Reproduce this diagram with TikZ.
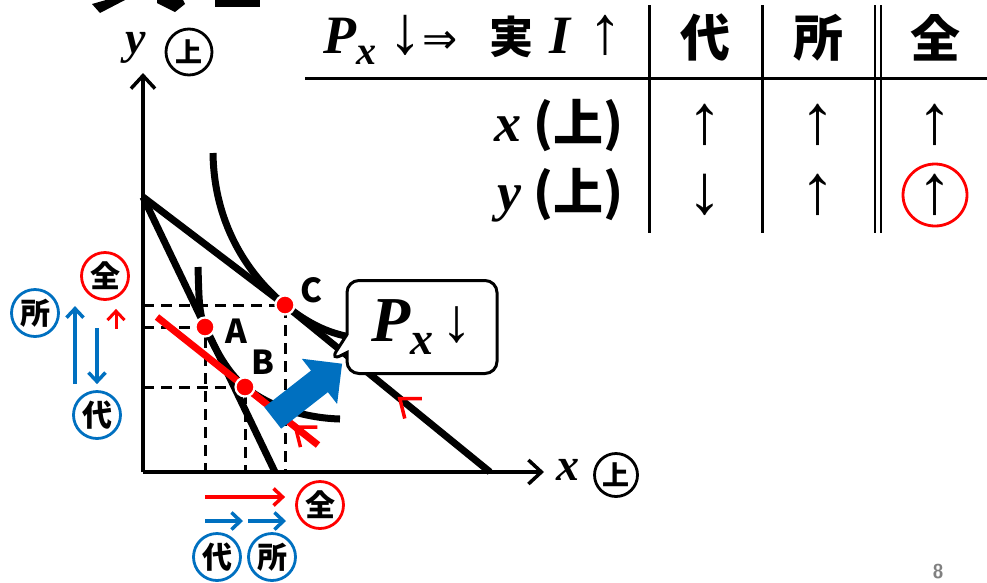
\documentclass[tikz,border=0pt]{standalone}
\usepackage{fontspec}
\newfontfamily\jp{Noto Sans CJK JP}
\newfontfamily\bi{Liberation Serif}
\newfontfamily\arw{Liberation Serif}
\newfontfamily\arwb{DejaVu Sans}
\usetikzlibrary{positioning,arrows.meta,shapes.arrows,shapes.callouts}
\definecolor{marublue}{rgb}{0.000000, 0.439216, 0.752941}
\definecolor{marured}{rgb}{1.000000, 0.000000, 0.000000}
\newcommand{\fsz}[1]{\fontsize{#1}{#1}\selectfont}
\newcommand{\bix}[1]{{\bi\bfseries\itshape #1}}
\tikzset{
  maru/.style={circle,draw=#1,line width=2.8pt,minimum size=47pt,inner sep=0pt,font=\jp\bfseries\fsz{30}},
  axisline/.style={line width=3.5pt,-{Straight Barb[length=13pt,width=24pt]}},
  bline/.style={line width=7pt},
  guide/.style={line width=3pt,dash pattern=on 11pt off 7pt},
  ptdot/.style={circle,fill=marured,draw=white,line width=2.2pt,minimum size=19pt,inner sep=0pt},
  ptlbl/.style={font=\jp\bfseries\fsz{33},inner sep=0pt},
  chev/.style={marured,line width=3.5pt},
  sarrow/.style={line width=3.5pt,-{Straight Barb[length=9pt,width=17pt]}},
  tbl/.style={line width=3pt},
  hcell/.style={font=\jp\bfseries\fsz{50},inner sep=0pt},
  acell/.style={font=\arw\fsz{70},inner sep=0pt},
}
\begin{document}
\begin{tikzpicture}[x=1pt,y=-1pt]
\useasboundingbox (0,0) rectangle (987,582);
% title, cut off at the top
\fill (92,4) -- (100,13) -- (125,0) -- (106,0) -- cycle;
\fill (157,0) -- (157,3) -- (175,12) -- (185,4) -- (183,0) -- cycle;
\fill (215,0) rectangle (260,7);
% table
\node[anchor=east,inner sep=0pt] (cond) at (623,40) {\fsz{54}\bix{P}\raisebox{-11pt}{\fsz{40}\bix{x}}\hspace{12pt}{\arw\fsz{68}↓}{\arwb\fsz{42}⇒}\hspace{32pt}{\jp\bfseries\fsz{44}実}\hspace{16pt}\bix{I}\hspace{18pt}{\arw\fsz{68}↑}};
\node[hcell] (hdai) at (705,38) {代};
\node[hcell] (hsho) at (818,38) {所};
\node[hcell] (hzen) at (935,38) {全};
\node[anchor=east,inner sep=0pt] (rowx) at (624,126) {{\fsz{54}\bix{x}}\hspace{12pt}{\jp\bfseries\fsz{50}(上)}};
\node[anchor=east,inner sep=0pt] (rowy) at (624,195) {{\fsz{54}\bix{y}}\hspace{12pt}{\jp\bfseries\fsz{50}(上)}};
\node[acell] (c11) at (705,125) {↑};
\node[acell] (c12) at (818,125) {↑};
\node[acell] (c13) at (935,125) {↑};
\node[acell] (c21) at (705,195) {↓};
\node[acell] (c22) at (818,195) {↑};
\node[acell] (c23) at (935,195) {↑};
\draw[marured,line width=2.8pt] (c23) ellipse [x radius=32, y radius=31];
\draw[tbl] (305,78) -- (987,78);
\draw[tbl] (649,5) -- (649,233);
\draw[tbl] (762,5) -- (762,233);
\draw[line width=2.5pt] (875,5) -- (875,233);
\draw[line width=2.5pt] (881,5) -- (881,233);
% graph points
\coordinate (O) at (143,472);
\coordinate (S) at (143,197);
\coordinate (E1) at (275,472);
\coordinate (E2) at (490,472);
\coordinate (A) at (205,327);
\coordinate (B) at (245,387);
\coordinate (C) at (285,305);
\coordinate (R1) at (157,317);
\coordinate (R2) at (318,445);
% guides
\draw[guide] (O |- C) -- (C) -- (C |- O);
\draw[guide] (O |- A) -- (A) -- (A |- O);
\draw[guide] (O |- B) -- (B) -- (B |- O);
% budget lines
\draw[bline] (S) -- (E1);
\draw[bline] (S) -- (C) -- (E2) coordinate[pos=0.56] (k2);
% indifference curves
\draw[bline] (213,153) .. controls (214,230) and (254,280) .. (C) .. controls (310,325) and (330,334) .. (356,338);
\draw[bline] (198,267) .. controls (199,300) and (199,314) .. (A) .. controls (211,340) and (225,371) .. (B) .. controls (270,407) and (305,418) .. (340,419);
% compensated line
\draw[bline,marured] (R1) -- (R2) coordinate[pos=0.86] (k1);
\draw[chev] (k1) ++(22,0) -- (k1) -- ++(5,20);
\draw[chev] (k2) ++(22,0) -- (k2) -- ++(5,20);
% axes
\draw[axisline] (O) -- (143,73);
\draw[axisline] (O) -- (544,472);
\node[font=\fsz{46}] (ylab) at (136,48) {\bix{y}};
\node[maru=black,minimum size=46pt,font=\jp\bfseries\fsz{27}] (yup) at (189,52) {上};
\node[font=\fsz{46}] (xlab) at (568,470) {\bix{x}};
\node[maru=black,minimum size=43pt,font=\jp\bfseries\fsz{27}] (xup) at (616,475) {上};
% shift arrow and callout
\node[single arrow,fill=marublue,minimum height=88pt,inner xsep=0pt,inner ysep=13.5pt,single arrow head extend=15pt,rotate=38] (shift) at (302,395) {};
\coordinate (tip) at (330,361);
\node[rectangle callout,draw,fill=white,line width=3pt,rounded corners=12pt,minimum width=150pt,minimum height=93pt,callout absolute pointer={(tip)},callout pointer width=18pt] (px) at (422,327) {\fsz{64}\bix{P}\raisebox{-13pt}{\fsz{46}\bix{x}}\hspace{8pt}{\arw\fsz{62}↓}};
% equilibrium points
\node[ptdot] (pA) at (A) {};
\node[ptdot] (pB) at (B) {};
\node[ptdot] (pC) at (C) {};
\node[ptlbl] (lA) at (236,331) {A};
\node[ptlbl] (lB) at (263,362) {B};
\node[ptlbl] (lC) at (312,290) {C};
% y effects
\node[maru=marublue] (sho1) at (35,313) {所};
\node[maru=marured] (zen1) at (105,276) {全};
\node[maru=marublue] (dai1) at (97,415) {代};
\draw[sarrow,marublue] ([shift={(-22,-6)}]dai1.north) -- ([shift={(-22,-84)}]dai1.north);
\draw[sarrow,marublue] ([shift={(0,-62)}]dai1.north) -- ([shift={(0,-6)}]dai1.north);
\draw[sarrow,marured,line width=3pt] ([shift={(11,28)}]zen1.south) -- ([shift={(11,8)}]zen1.south);
% x effects
\node[maru=marured] (zen2) at (320,505) {全};
\node[maru=marublue] (dai2) at (217,557) {代};
\node[maru=marublue] (sho2) at (272,557) {所};
\coordinate (x0) at (205,497);
\draw[sarrow,marured] (x0) -- ([shift={(-10,-8)}]zen2.west);
\draw[sarrow,marublue] (205,521) -- (243,521);
\draw[sarrow,marublue] (248,521) -- (286,521);
% page number
\node[text=gray,font=\sffamily\bfseries\fsz{20}] (page) at (938,572) {8};
\end{tikzpicture}
\end{document}
